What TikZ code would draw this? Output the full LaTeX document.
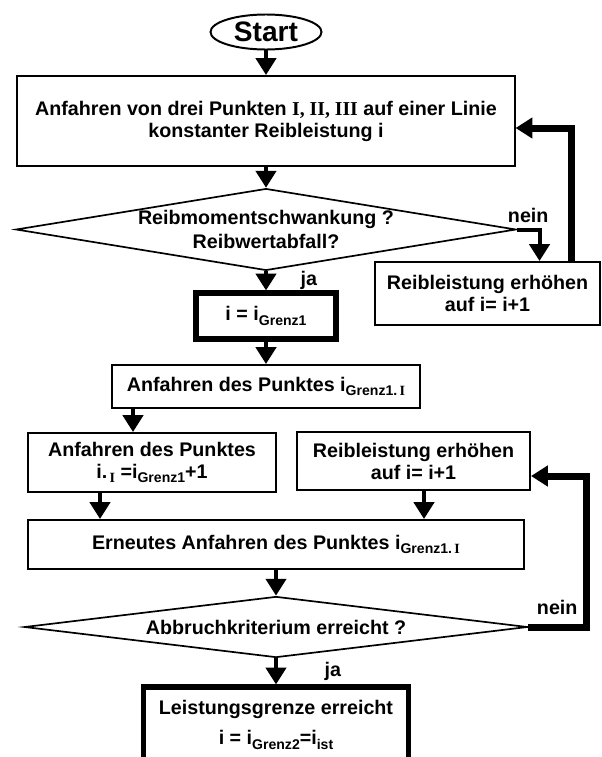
\documentclass[tikz,border=0pt]{standalone}
\usepackage{fontspec}
\setmainfont{Liberation Sans}
\newfontfamily\romfont{Liberation Serif}
\usepackage{tikz}
\usetikzlibrary{arrows.meta,shapes.geometric,calc}

\newcommand{\lowidx}[1]{\raisebox{-0.45ex}{\fontsize{10}{10}\selectfont #1}}
\newcommand{\rom}[1]{{\romfont\bfseries #1}}

\begin{document}
\begin{tikzpicture}[x=0.025cm,
            y=-0.025cm,
            >={Triangle[length=0.42cm,width=0.5cm]},
            font=\bfseries\fontsize{14}{15.6}\selectfont,
            every node/.style={align=center},
            box/.style={draw,line width=1.4pt,inner sep=0pt},
            bigbox/.style={draw,line width=3.6pt,inner sep=0pt},
            decision/.style={draw,diamond,line width=1.2pt,inner sep=0pt,aspect=6},
            terminal/.style={draw,ellipse,line width=1.4pt,inner sep=0pt},
            flow/.style={->,line width=0.1cm},
            loopback/.style={->,line width=0.175cm}]

        \clip (0,0) rectangle (601,757);

        \node[terminal,minimum width=2.775cm,minimum height=0.875cm,
              font=\bfseries\fontsize{20}{20}\selectfont] (start) at (266,32) {Start};
        \node[box,minimum width=12.425cm,minimum height=2.25cm]      (pkt)    at (266,121)   {Anfahren von drei Punkten \rom{I, II, III} auf einer Linie\\konstanter Reibleistung i};
        \node[decision,minimum width=12.5cm,minimum height=1.875cm]  (schw)   at (266,229.5) {Reibmomentschwankung ?\\[2pt]Reibwertabfall?};
        \node[box,minimum width=5.625cm,minimum height=1.575cm]      (erh1)   at (487.5,293.5) {Reibleistung erhöhen\\auf i= i+1};
        \node[bigbox,minimum width=3.5cm,minimum height=1.15cm]      (grenz)  at (266,316)   {i = i\lowidx{Grenz1}};
        \node[box,minimum width=7.675cm,minimum height=1.075cm]      (pktI)   at (266,386.5) {Anfahren des Punktes i\lowidx{Grenz1.\,\rom{I}}};
        \node[box,minimum width=6.2cm,minimum height=1.475cm]        (pktneu) at (152,462.5) {Anfahren des Punktes\\i.\lowidx{\,\rom{I}} =i\lowidx{Grenz1}+1};
        \node[box,minimum width=5.825cm,minimum height=1.45cm]       (erh2)   at (413.5,461) {Reibleistung erhöhen\\auf i= i+1};
        \node[box,minimum width=12.375cm,minimum height=1.225cm]     (erneut) at (276,544.5) {Erneutes Anfahren des Punktes i\lowidx{Grenz1.\,\rom{I}}};
        \node[decision,minimum width=12.575cm,minimum height=1.525cm] (abbr)  at (276,627)   {Abbruchkriterium erreicht ?};
        \node[bigbox,minimum width=6.625cm,minimum height=1.9cm]     (ende)   at (276,725)   {Leistungsgrenze erreicht\\[6pt]i = i\lowidx{Grenz2}=i\lowidx{ist}};

        % ports that sit off the box centres
        \coordinate (inneu)  at ($(pktneu.north)+(-19,0)$);
        \coordinate (outneu) at ($(pktneu.south)+(-52,0)$);
        \coordinate (outerh) at ($(erh2.south)+(10.5,0)$);
        \coordinate (back)   at ($(erh2.east)+(0,15)$);

        \path[flow] (start)  edge (pkt)
                    (pkt)    edge (schw)
                    (schw)   edge node[right=0.7cm] {ja} (grenz)
                    (grenz)  edge (pktI)
                    (erneut) edge (abbr)
                    (abbr)   edge node[right=1.05cm] {ja} (ende);

        \draw[flow] (schw.east) -| node[pos=0.25,above] {nein} ([xshift=1.3cm]erh1.north);
        \draw[loopback] ([xshift=2.1cm]erh1.north) |- ([yshift=-0.175cm]pkt.east);

        \draw[flow] (pktI.south -| inneu) -- (inneu);
        \draw[flow] (outneu) -- (outneu |- erneut.north);
        \draw[flow] (outerh) -- (outerh |- erneut.north);
        \draw[loopback] (abbr.east) -| node[pos=0.25,above=0.1cm] {nein} ($(back)+(55,0)$) -- (back);

    \end{tikzpicture}
\end{document}
